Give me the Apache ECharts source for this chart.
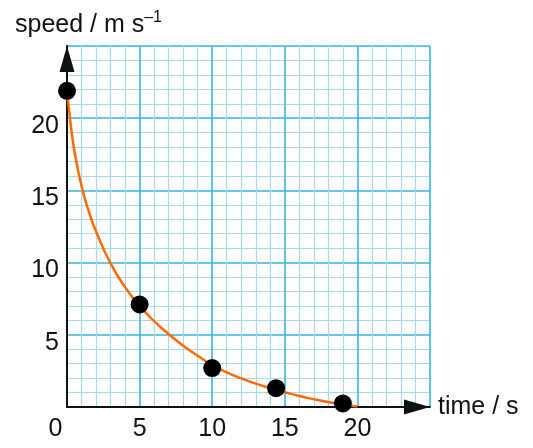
<!DOCTYPE html>
<html>
<head>
<meta charset="utf-8">
<script src="https://cdn.jsdelivr.net/npm/echarts@6/dist/echarts.min.js"></script>
<style>
html,body{margin:0;padding:0;background:#fff;}
#chart{width:533px;height:448px;}
</style>
</head>
<body>
<div id="chart"></div>
<script>
// measured points (time / s, speed / m s^-1)
var pointTime = [0, 5, 10, 14.4, 19];
var pointSpeed = [21.9, 7.1, 2.7, 1.3, 0.25];
// best-fit curve
var curveTime = [0, 0.25, 0.5, 1, 1.5, 2, 3, 4, 5, 6, 7, 8, 9, 10, 11, 12, 13, 14, 15, 16, 17, 18, 19, 20];
var curveSpeed = [22, 19.6, 17.8, 15.3, 13.55, 12.15, 9.95, 8.3, 7.0, 5.95, 5.05, 4.25, 3.55, 2.9, 2.4, 1.98, 1.62, 1.3, 1.02, 0.76, 0.54, 0.34, 0.17, 0.04];
var xTicks = [0, 5, 10, 15, 20];
var yTicks = [5, 10, 15, 20];

var FONT = '"Liberation Sans", Arial, sans-serif';
var FS = 25;
var MAJOR = '#36b4de';
var MINOR = '#a9d9eb';

function pairs(a, b) { return a.map(function (v, i) { return [v, b[i]]; }); }

var chart = echarts.init(document.getElementById('chart'), null, {renderer: 'canvas'});
chart.setOption({
  animation: false,
  backgroundColor: '#ffffff',
  title: {
    text: '{a|speed / m s}{b|–1}',
    left: 10,
    top: 5,
    textStyle: {
      fontWeight: 'normal',
      rich: {
        a: {fontFamily: FONT, fontSize: FS, fontWeight: 'normal', color: '#111'},
        b: {fontFamily: FONT, fontSize: 16, fontWeight: 'normal', color: '#111', padding: [0, 0, 14, 0]}
      }
    }
  },
  grid: {left: 67, top: 46, width: 363, height: 361},
  xAxis: {
    type: 'value',
    min: 0, max: 25, interval: 5,
    name: 'time / s',
    nameLocation: 'end',
    nameGap: 8,
    nameTextStyle: {fontFamily: FONT, fontSize: FS, color: '#111'},
    axisLine: {show: true, lineStyle: {color: '#111', width: 2}, symbol: ['none', 'triangle'], symbolSize: [15, 26], symbolOffset: [0, -13]},
    axisTick: {show: false},
    minorTick: {show: false, splitNumber: 5},
    splitLine: {show: true, lineStyle: {color: MAJOR, width: 1.6}},
    minorSplitLine: {show: true, lineStyle: {color: MINOR, width: 1.2}},
    axisLabel: {
      margin: 10,
      fontFamily: FONT, fontSize: FS, color: '#111',
      formatter: function (v) {
        if (xTicks.indexOf(v) < 0) return '';
        if (v === 0) return '{o|0}';
        return String(v);
      },
      rich: {o: {fontFamily: FONT, fontSize: FS, color: '#111', padding: [0, 23, 0, 0]}}
    }
  },
  yAxis: {
    type: 'value',
    min: 0, max: 25, interval: 5,
    axisLine: {show: true, onZero: false, lineStyle: {color: '#111', width: 2}, symbol: ['none', 'triangle'], symbolSize: [15, 26], symbolOffset: [0, -13]},
    axisTick: {show: false},
    minorTick: {show: false, splitNumber: 5},
    splitLine: {show: true, lineStyle: {color: MAJOR, width: 1.6}},
    minorSplitLine: {show: true, lineStyle: {color: MINOR, width: 1.2}},
    axisLabel: {
      margin: 8,
      fontFamily: FONT, fontSize: FS, color: '#111',
      formatter: function (v) { return yTicks.indexOf(v) < 0 ? '' : '{v|' + v + '}'; },
      rich: {v: {fontFamily: FONT, fontSize: FS, color: '#111', padding: [16, 0, 0, 0]}}
    }
  },
  series: [
    {
      type: 'line',
      data: pairs(curveTime, curveSpeed),
      smooth: 0.5,
      showSymbol: false,
      symbol: 'none',
      lineStyle: {color: '#ff6a00', width: 2.5},
      z: 3
    },
    {
      type: 'scatter',
      data: pairs(pointTime, pointSpeed),
      symbol: 'circle',
      symbolSize: 18,
      itemStyle: {color: '#000', opacity: 1},
      z: 4
    }
  ]
});
</script>
</body>
</html>
